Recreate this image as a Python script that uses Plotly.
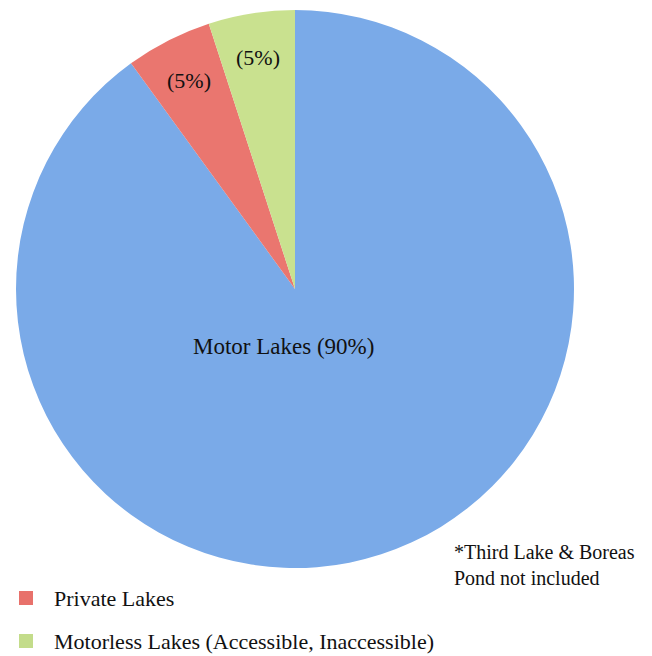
import math
import plotly.graph_objects as go

labels = ["Motor Lakes", "Private Lakes", "Motorless Lakes (Accessible, Inaccessible)"]
values = [90, 5, 5]
slice_text = ["Motor Lakes (90%)", "(5%)", "(5%)"]
colors = ["#7aaae8", "#ea766f", "#c9e18f"]
legend_labels = ["Private Lakes", "Motorless Lakes (Accessible, Inaccessible)"]
legend_colors = ["#e8716b", "#c3dc8a"]
note = "*Third Lake & Boreas<br>Pond not included"

W, H = 652, 656
FONT = "Liberation Serif"

# pie geometry (pixels)
cx, cy, R = 295, 289, 279

fig = go.Figure(go.Pie(
    labels=labels,
    values=values,
    sort=False,
    direction="clockwise",
    rotation=0,
    marker=dict(colors=colors, line=dict(width=0)),
    textinfo="none",
    hoverinfo="label+percent",
    showlegend=False,
    domain=dict(x=[(cx - R) / W, (cx + R) / W], y=[1 - (cy + R) / H, 1 - (cy - R) / H]),
))

annotations = []
total = sum(values)
start = 0.0
for i, v in enumerate(values):
    ang = (v / total) * 360
    mid = start + ang / 2
    start += ang
    if i == 0:
        px, py = 283, 346
        size = 23
    else:
        r = 0.84 * R
        px = cx + r * math.sin(math.radians(mid))
        py = cy - r * math.cos(math.radians(mid))
        size = 22
    annotations.append(dict(x=px / W, y=1 - py / H, xref="paper", yref="paper",
                            text=slice_text[i], showarrow=False,
                            font=dict(family=FONT, size=size, color="#111111"),
                            xanchor="center", yanchor="middle"))

annotations.append(dict(x=452 / W, y=1 - 565 / H, xref="paper", yref="paper",
                        text=note, showarrow=False, align="left",
                        font=dict(family=FONT, size=20, color="#111111"),
                        xanchor="left", yanchor="middle"))

shapes = []
leg_y = [598, 641]
for lab, col, y in zip(legend_labels, legend_colors, leg_y):
    shapes.append(dict(type="rect", xref="paper", yref="paper",
                       x0=19 / W, x1=33 / W, y0=1 - (y + 7) / H, y1=1 - (y - 7) / H,
                       fillcolor=col, line=dict(width=0)))
    annotations.append(dict(x=52 / W, y=1 - y / H, xref="paper", yref="paper",
                            text=lab, showarrow=False,
                            font=dict(family=FONT, size=22, color="#111111"),
                            xanchor="left", yanchor="middle"))

fig.update_layout(
    width=W, height=H,
    margin=dict(l=0, r=0, t=0, b=0),
    paper_bgcolor="white", plot_bgcolor="white",
    annotations=annotations, shapes=shapes,
)

fig.write_html("out.html")
